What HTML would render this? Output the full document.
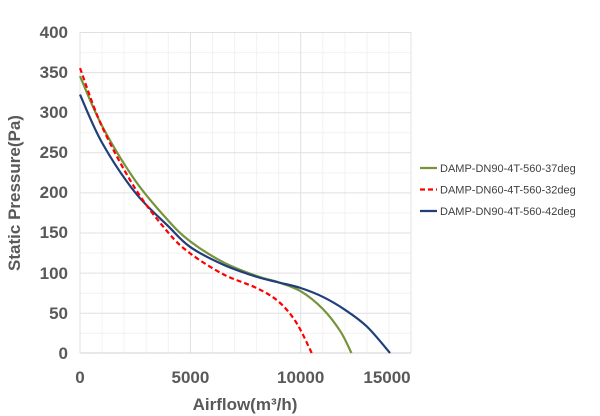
<!DOCTYPE html>
<html><head><style>body{margin:0;background:#fff}svg{display:block}</style></head><body>
<svg width="600" height="416" xmlns="http://www.w3.org/2000/svg" font-family="Liberation Sans, Arial, sans-serif">
<g stroke="#f2f2f2" stroke-width="1">
<line x1="102.1" y1="32" x2="102.1" y2="353"/><line x1="124.1" y1="32" x2="124.1" y2="353"/><line x1="146.2" y1="32" x2="146.2" y2="353"/><line x1="168.3" y1="32" x2="168.3" y2="353"/>
<line x1="212.5" y1="32" x2="212.5" y2="353"/><line x1="234.6" y1="32" x2="234.6" y2="353"/><line x1="256.6" y1="32" x2="256.6" y2="353"/><line x1="278.7" y1="32" x2="278.7" y2="353"/>
<line x1="322.8" y1="32" x2="322.8" y2="353"/><line x1="344.9" y1="32" x2="344.9" y2="353"/><line x1="367" y1="32" x2="367" y2="353"/><line x1="389" y1="32" x2="389" y2="353"/>
<line x1="80" y1="52.6" x2="411" y2="52.6"/><line x1="80" y1="92.7" x2="411" y2="92.7"/><line x1="80" y1="132.8" x2="411" y2="132.8"/><line x1="80" y1="172.9" x2="411" y2="172.9"/><line x1="80" y1="213" x2="411" y2="213"/><line x1="80" y1="253.1" x2="411" y2="253.1"/><line x1="80" y1="293.2" x2="411" y2="293.2"/><line x1="80" y1="333.3" x2="411" y2="333.3"/>
</g>
<g stroke="#e0e0e0" stroke-width="1">
<line x1="80" y1="32.5" x2="411" y2="32.5"/><line x1="80" y1="72.6" x2="411" y2="72.6"/><line x1="80" y1="112.7" x2="411" y2="112.7"/><line x1="80" y1="152.8" x2="411" y2="152.8"/><line x1="80" y1="192.9" x2="411" y2="192.9"/><line x1="80" y1="233" x2="411" y2="233"/><line x1="80" y1="273.1" x2="411" y2="273.1"/><line x1="80" y1="313.2" x2="411" y2="313.2"/>
<line x1="80" y1="32" x2="80" y2="353"/><line x1="190.4" y1="32" x2="190.4" y2="353"/><line x1="300.7" y1="32" x2="300.7" y2="353"/><line x1="411" y1="32" x2="411" y2="353"/>
</g>
<line x1="80" y1="353" x2="411" y2="353" stroke="#d0d0d0"/>
<g font-size="17" font-weight="bold" fill="#595959" text-anchor="end">
<text x="68" y="38">400</text><text x="68" y="78">350</text><text x="68" y="118">300</text><text x="68" y="158">250</text><text x="68" y="198">200</text><text x="68" y="238">150</text><text x="68" y="279">100</text><text x="68" y="319">50</text><text x="68" y="359">0</text>
</g>
<g font-size="17" font-weight="bold" fill="#595959" text-anchor="middle">
<text x="80" y="383">0</text><text x="190.4" y="383">5000</text><text x="300.7" y="383">10000</text><text x="387" y="383">15000</text>
<text x="245" y="410" font-size="17">Airflow(m³/h)</text>
<text transform="translate(20,193) rotate(-90)" font-size="17">Static Pressure(Pa)</text>
</g>
<g fill="none" stroke-width="2.2" stroke-linejoin="round">
<path id="g" stroke="#77933c"/>
<path id="b" stroke="#1f3f7a"/>
<path id="r" stroke="#ff0000" stroke-dasharray="5,3"/>
</g>
<g font-size="11" fill="#404040">
<line x1="420" y1="168" x2="437" y2="168" stroke="#77933c" stroke-width="2.2"/><text x="440" y="172">DAMP-DN90-4T-560-37deg</text>
<line x1="420" y1="189.5" x2="437" y2="189.5" stroke="#ff0000" stroke-width="2.2" stroke-dasharray="5,3"/><text x="440" y="193.5">DAMP-DN60-4T-560-32deg</text>
<line x1="420" y1="211" x2="437" y2="211" stroke="#1f3f7a" stroke-width="2.2"/><text x="440" y="215">DAMP-DN90-4T-560-42deg</text>
</g>
</svg>
<script>
function cr(p){let d="M"+p[0][0]+","+p[0][1];for(let i=0;i<p.length-1;i++){const a=p[i-1]||p[i],b=p[i],c=p[i+1],e=p[i+2]||c;d+=" C"+(b[0]+(c[0]-a[0])/6)+","+(b[1]+(c[1]-a[1])/6)+" "+(c[0]-(e[0]-b[0])/6)+","+(c[1]-(e[1]-b[1])/6)+" "+c[0]+","+c[1];}return d;}
function X(x){return 80+x*0.022067}function Y(p){return 353-p*0.8025}
function m(a){return a.map(q=>[X(q[0]),Y(q[1])])}
document.getElementById("g").setAttribute("d",cr(m([[0,345],[1000,283],[2500,215],[4000,165],[5000,139],[6500,113],[8000,96],[9000,88],[10000,77],[11000,55],[11800,27],[12300,0]])));
document.getElementById("b").setAttribute("d",cr(m([[0,322],[1000,262],[2500,200],[4000,158],[5000,132],[6500,110],[8000,95],[9000,88],[10000,81],[11000,70],[12000,54],[13000,33],[14050,0]])));
document.getElementById("r").setAttribute("d",cr(m([[0,355],[1000,282],[2500,205],[4000,150],[5000,124],[6500,98],[8000,81],[9000,64],[9800,38],[10500,0]])));
</script>
</body></html>
